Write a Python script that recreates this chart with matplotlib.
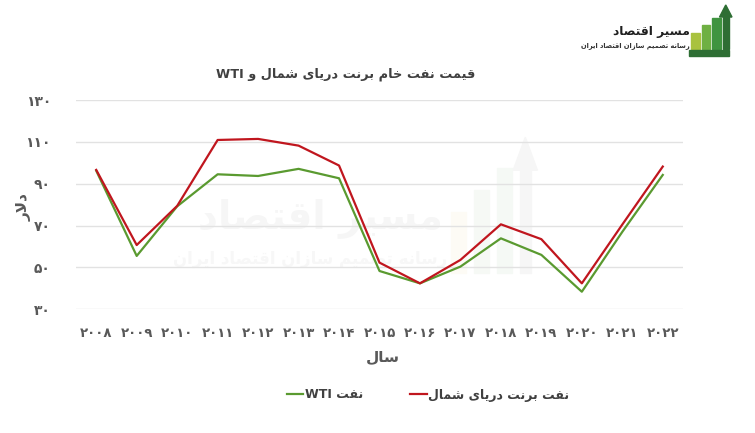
import matplotlib
matplotlib.use("Agg")
import matplotlib.pyplot as plt
from matplotlib.lines import Line2D
from matplotlib.patches import Rectangle, Polygon

# ---------------- data ----------------
years = list(range(2008, 2023))
brent = [96.6, 60.7, 79.4, 110.9, 111.4, 108.2, 98.7, 52.3, 42.4, 53.6, 70.6, 63.5, 42.4, 70.5, 98.2]
wti = [96.2, 55.5, 79.2, 94.5, 93.7, 97.1, 92.6, 48.3, 42.4, 50.4, 63.9, 56.0, 38.4, 67.0, 94.2]
y_ticks = [30, 50, 70, 90, 110, 130]

title_text = "قیمت نفت خام برنت دریای شمال و WTI"
ylabel_text = "دلار"
xlabel_text = "سال"
brent_label = "نفت برنت دریای شمال"
wti_label = "نفت WTI"
logo_title = "مسیر اقتصاد"
logo_sub = "رسانه تصمیم سازان اقتصاد ایران"

# ---------------- minimal Persian shaping ----------------
FORMS = {  # isolated, final, initial, medial
    'ا': ('\uFE8D', '\uFE8E', None, None),
    'ب': ('\uFE8F', '\uFE90', '\uFE91', '\uFE92'),
    'ت': ('\uFE95', '\uFE96', '\uFE97', '\uFE98'),
    'خ': ('\uFEA5', '\uFEA6', '\uFEA7', '\uFEA8'),
    'د': ('\uFEA9', '\uFEAA', None, None),
    'ر': ('\uFEAD', '\uFEAE', None, None),
    'ز': ('\uFEAF', '\uFEB0', None, None),
    'س': ('\uFEB1', '\uFEB2', '\uFEB3', '\uFEB4'),
    'ش': ('\uFEB5', '\uFEB6', '\uFEB7', '\uFEB8'),
    'ص': ('\uFEB9', '\uFEBA', '\uFEBB', '\uFEBC'),
    'ف': ('\uFED1', '\uFED2', '\uFED3', '\uFED4'),
    'ق': ('\uFED5', '\uFED6', '\uFED7', '\uFED8'),
    'ل': ('\uFEDD', '\uFEDE', '\uFEDF', '\uFEE0'),
    'م': ('\uFEE1', '\uFEE2', '\uFEE3', '\uFEE4'),
    'ن': ('\uFEE5', '\uFEE6', '\uFEE7', '\uFEE8'),
    'ه': ('\uFEE9', '\uFEEA', '\uFEEB', '\uFEEC'),
    'و': ('\uFEED', '\uFEEE', None, None),
    'ی': ('\uFBFC', '\uFBFD', '\uFBFE', '\uFBFF'),
}


def _dual(c):
    return c in FORMS and FORMS[c][2] is not None


def shape_word(s):
    out = []
    i = 0
    n = len(s)
    while i < n:
        c = s[i]
        if c not in FORMS:
            out.append(c)
            i += 1
            continue
        prev = s[i - 1] if i > 0 else ''
        joined_prev = _dual(prev)
        if c == 'ل' and i + 1 < n and s[i + 1] == 'ا':
            out.append('\uFEFC' if joined_prev else '\uFEFB')
            i += 2
            continue
        nxt = s[i + 1] if i + 1 < n else ''
        joins_next = _dual(c) and nxt in FORMS
        iso, fin, ini, med = FORMS[c]
        if joined_prev and joins_next:
            out.append(med)
        elif joined_prev:
            out.append(fin)
        elif joins_next:
            out.append(ini)
        else:
            out.append(iso)
        i += 1
    return ''.join(out)


def fa(text):
    shaped = shape_word(text)
    runs = []
    cur = ''
    cur_latin = None
    for ch in shaped:
        is_latin = ch.isascii() and ch.isalnum()
        if ch == ' ':
            is_latin = False
        if cur_latin is None or is_latin == cur_latin:
            cur += ch
        else:
            runs.append((cur, cur_latin))
            cur = ch
        cur_latin = is_latin
    if cur:
        runs.append((cur, cur_latin))
    vis = []
    for r, lat in reversed(runs):
        vis.append(r if lat else r[::-1])
    return ''.join(vis)


FA_DIGITS = str.maketrans('0123456789', '۰۱۲۳۴۵۶۷۸۹')


def fa_num(v):
    return str(v).translate(FA_DIGITS)


plt.rcParams['font.family'] = ['DejaVu Sans']

W, H = 755, 433
fig = plt.figure(figsize=(W / 100, H / 100), dpi=100)
fig.patch.set_facecolor('white')

# watermark (very faint, drawn beneath everything)
fig.text(320 / W, 1 - 218 / H, fa(logo_title), fontsize=28, fontweight='bold',
         color='#f6f6f6', ha='center', va='center', zorder=-5)
fig.text(310 / W, 1 - 259 / H, fa(logo_sub), fontsize=12, fontweight='bold',
         color='#f7f7f7', ha='center', va='center', zorder=-5)
wm = fig.add_axes([445 / W, 1 - 300 / H, 110 / W, 165 / H], zorder=-5)
wm.set_xlim(0, 10)
wm.set_ylim(0, 15)
wm.axis('off')
wm.add_patch(Rectangle((0.5, 2.5), 1.4, 5.5, color='#fdfbf5'))
wm.add_patch(Rectangle((2.6, 2.5), 1.4, 7.5, color='#f6f9f5'))
wm.add_patch(Rectangle((4.7, 2.5), 1.4, 9.5, color='#f5f9f5'))
wm.add_patch(Rectangle((6.8, 2.5), 1.0, 9.5, color='#f6f6f6'))
wm.add_patch(Polygon([[6.2, 11.8], [8.4, 11.8], [7.3, 14.8]], color='#f6f6f6'))

ax = fig.add_axes([76 / W, 1 - 309.3 / H, (683 - 76) / W, (309.3 - 100) / H])
ax.patch.set_alpha(0)
x = list(range(len(years)))
ax.plot(x, wti, color='#5A9A30', lw=1.6, zorder=3)
ax.plot(x, brent, color='#C0161E', lw=1.6, zorder=4)

ax.set_xlim(-0.5, len(years) - 0.5)
ax.set_ylim(30, 130)
ax.set_yticks(y_ticks)
ax.set_yticklabels([fa_num(v) for v in y_ticks], fontsize=10, fontweight='bold', color='#595959')
ax.set_xticks(x)
ax.set_xticklabels([fa_num(v) for v in years], fontsize=9.5, fontweight='bold', color='#595959')
ax.tick_params(axis='y', length=0, pad=18)
ax.tick_params(axis='x', length=0, pad=13)
ax.grid(axis='y', color='#e2e2e2', lw=1)
for s in ax.spines.values():
    s.set_visible(False)

fig.text(24 / W, 1 - 207 / H, fa(ylabel_text), rotation=90, fontsize=11, fontweight='bold',
         color='#595959', ha='center', va='center')
fig.text(383 / W, 1 - 357 / H, fa(xlabel_text), fontsize=11, fontweight='bold',
         color='#595959', ha='center', va='center')
fig.text(346 / W, 1 - 74 / H, fa(title_text), fontsize=9.3, fontweight='bold',
         color='#404040', ha='center', va='center')

handles = [Line2D([], [], color='#5A9A30', lw=1.6), Line2D([], [], color='#C0161E', lw=1.6)]
leg = fig.legend(handles, [fa(wti_label), fa(brent_label)], ncol=2, frameon=False,
                 loc='center', bbox_to_anchor=(428 / W, 1 - 395 / H),
                 handlelength=1.3, handletextpad=0.1, columnspacing=3.8,
                 prop={'size': 9, 'weight': 'bold'})
for t in leg.get_texts():
    t.set_color('#404040')

# logo
lg = fig.add_axes([688 / W, 1 - 62 / H, 50 / W, 58 / H])
lg.set_xlim(0, 10)
lg.set_ylim(0, 12)
lg.axis('off')
lg.add_patch(Rectangle((0.6, 2.6), 1.7, 3.4, color='#a9c23f'))
lg.add_patch(Rectangle((2.7, 2.6), 1.7, 5.0, color='#6fb043'))
lg.add_patch(Rectangle((4.8, 2.6), 1.7, 6.6, color='#3f9440'))
lg.add_patch(Rectangle((7.0, 2.6), 1.1, 6.8, color='#2e6e34'))
lg.add_patch(Polygon([[6.3, 9.3], [8.8, 9.3], [7.55, 11.8]], color='#2e6e34'))
lg.add_patch(Rectangle((0.2, 1.2), 8.0, 1.2, color='#2e6e34'))
fig.text(690 / W, 1 - 32 / H, fa(logo_title), fontsize=8.8, fontweight='bold',
         color='#1f1f1f', ha='right', va='center')
fig.text(690 / W, 1 - 46 / H, fa(logo_sub), fontsize=4.8, fontweight='bold',
         color='#333333', ha='right', va='center')

fig.savefig('out.png', dpi=100, facecolor='white')
